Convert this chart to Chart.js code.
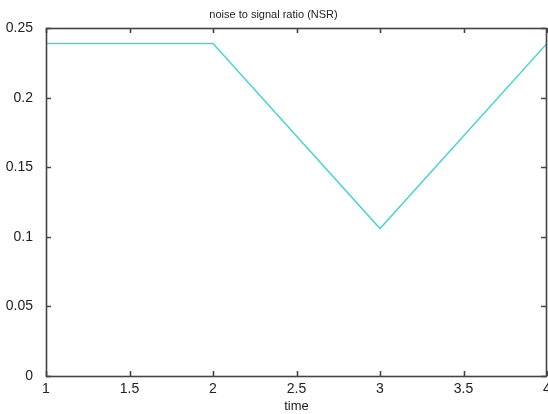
<!DOCTYPE html>
<html>
<head>
<meta charset="utf-8">
<script src="https://cdn.jsdelivr.net/npm/chart.js@4.4.1/dist/chart.umd.min.js"></script>
<style>
html,body{margin:0;padding:0;background:#fff;}
#wrap{width:548px;height:414px;}
</style>
</head>
<body>
<div id="wrap"><canvas id="c" width="548" height="414"></canvas></div>
<script>
const timeValues = [1, 2, 3, 4];
const nsrValues = [0.239, 0.239, 0.106, 0.239];
const xTicks = [1, 1.5, 2, 2.5, 3, 3.5, 4];
const yTicks = [0, 0.05, 0.1, 0.15, 0.2, 0.25];
const titleText = 'noise to signal ratio (NSR)';
const xLabel = 'time';

const FONT = "'Liberation Sans', Arial, sans-serif";
const AXC = '#444444';

const boxTicks = {
  id: 'boxTicks',
  afterDraw(chart) {
    const ctx = chart.ctx;
    const a = chart.chartArea;
    const x = chart.scales.x, y = chart.scales.y;
    const l = Math.round(a.left), t = Math.round(a.top);
    const r = Math.round(a.right) - 1, b = Math.round(a.bottom);
    ctx.save();
    ctx.strokeStyle = AXC;
    ctx.lineWidth = 1.6;
    ctx.strokeRect(l + 0.5, t + 0.5, r - l, b - t);
    ctx.beginPath();
    const L = 5;
    xTicks.forEach(v => {
      const px = Math.round(x.getPixelForValue(v)) + 0.5;
      ctx.moveTo(px, b); ctx.lineTo(px, b - L);
      ctx.moveTo(px, t); ctx.lineTo(px, t + L);
    });
    yTicks.forEach(v => {
      const py = Math.round(y.getPixelForValue(v)) + 0.5;
      ctx.moveTo(l, py); ctx.lineTo(l + L, py);
      ctx.moveTo(r, py); ctx.lineTo(r - L, py);
    });
    ctx.stroke();
    ctx.restore();
  }
};

new Chart(document.getElementById('c'), {
  type: 'line',
  data: {
    datasets: [{
      data: timeValues.map((t, i) => ({x: t, y: nsrValues[i]})),
      borderColor: '#4fd3d0',
      borderWidth: 1.5,
      pointRadius: 0,
      fill: false,
      tension: 0
    }]
  },
  options: {
    responsive: false,
    animation: false,
    layout: {padding: {left: 0, right: 1, top: 0, bottom: 0}},
    plugins: {
      legend: {display: false},
      tooltip: {enabled: false},
      title: {
        display: true,
        text: titleText,
        color: '#222',
        font: {family: FONT, size: 11, weight: 'normal'},
        padding: {top: 8, bottom: 7}
      }
    },
    scales: {
      x: {
        type: 'linear',
        min: 1, max: 4,
        afterBuildTicks: s => { s.ticks = xTicks.map(v => ({value: v})); },
        afterFit: s => { s.height = 38; s.paddingLeft = 0; s.paddingRight = 0; },
        grid: {display: false},
        border: {display: false},
        ticks: {color: '#222', font: {family: FONT, size: 14}, padding: -3, maxRotation: 0, autoSkip: false,
                callback: v => String(v)},
        title: {display: true, text: xLabel, color: '#222', font: {family: FONT, size: 13}, padding: {top: 4, bottom: 0}}
      },
      y: {
        type: 'linear',
        min: 0, max: 0.25,
        afterBuildTicks: s => { s.ticks = yTicks.map(v => ({value: v})); },
        afterFit: s => { s.width = 46; },
        grid: {display: false},
        border: {display: false},
        ticks: {color: '#222', font: {family: FONT, size: 14}, padding: 5, autoSkip: false,
                callback: v => String(v)}
      }
    }
  },
  plugins: [boxTicks]
});
</script>
</body>
</html>
